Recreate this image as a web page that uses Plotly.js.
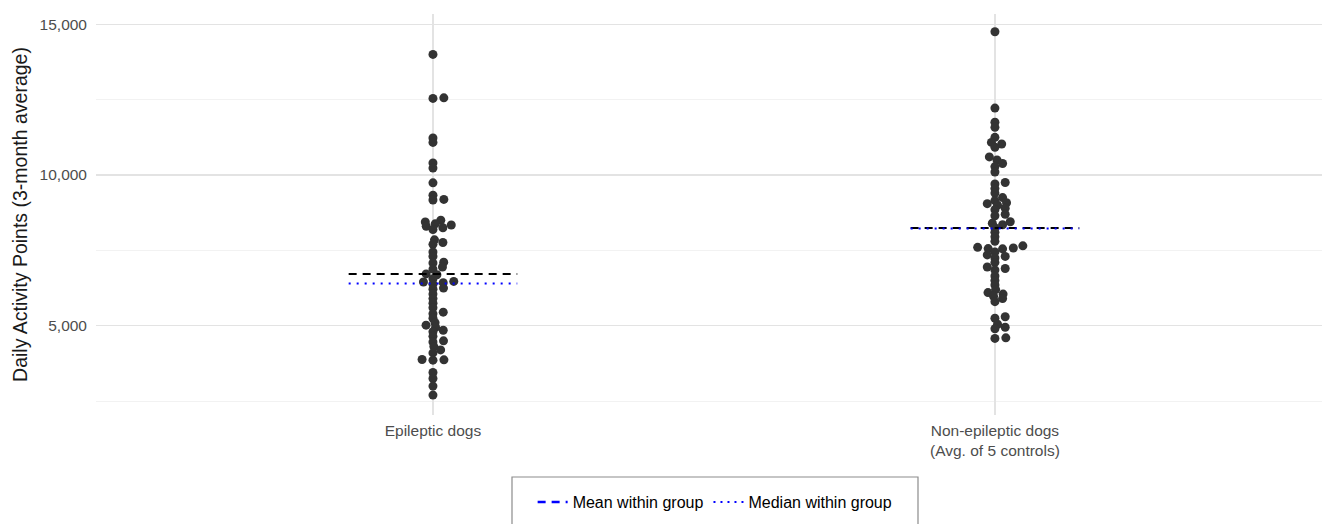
<!DOCTYPE html>
<html><head><meta charset="utf-8">
<script src="https://cdn.plot.ly/plotly-3.0.1.min.js"></script>
<style>body{margin:0;background:#fff}#chart{width:1322px;height:524px}</style>
</head><body><div id="chart"></div>
<script>
const groups = ["Epileptic dogs", "Non-epileptic dogs<br>(Avg. of 5 controls)"];
const epilepticValues = [14000, 12560, 12540, 11230, 11080, 10400, 10230, 9740, 9330, 9190, 9170,
  8500, 8440, 8380, 8340, 8300, 8250, 8190, 7850, 7760, 7700, 7450, 7300, 7110, 7080, 6950, 6880,
  6720, 6690, 6560, 6470, 6450, 6430, 6380, 6250, 6210, 6050, 5900, 5750, 5600, 5450, 5400, 5250,
  5100, 5020, 4950, 4850, 4800, 4650, 4500, 4460, 4310, 4200, 4100, 3880, 3870, 3860, 3450, 3250,
  3000, 2700];
const controlValues = [14750, 12220, 11750, 11580, 11250, 11080, 11030, 10920, 10600, 10500, 10380,
  10280, 10100, 9750, 9700, 9550, 9400, 9250, 9150, 9080, 9050, 9000, 8900, 8850, 8700, 8650, 8450,
  8400, 8350, 8250, 8100, 7950, 7800, 7650, 7600, 7580, 7560, 7550, 7450, 7350, 7300, 7250, 7100,
  6950, 6900, 6850, 6650, 6500, 6350, 6200, 6100, 6050, 5980, 5900, 5800, 5300, 5250, 5050, 4950,
  4900, 4600, 4580];
const meanValues = [6720, 8240];
const medianValues = [6400, 8225];
const yTickVals = [5000, 10000, 15000];
const yTickText = ["5,000", "10,000", "15,000"];
const yMinorVals = [2500, 7500, 12500];

const xRange = [0.4004, 2.582];
const yRange = [2040, 15340];
const plotW = 1226, plotH = 401;
const pxPerX = plotW / (xRange[1] - xRange[0]);
const pxPerY = plotH / (yRange[1] - yRange[0]);

function swarm(values, Dx, Dy, rightBias) {
  const idx = values.map((v, i) => i).sort((a, b) => values[a] - values[b]);
  const placed = [];
  const off = new Array(values.length);
  for (const i of idx) {
    const y = values[i] * pxPerY;
    const near = placed.filter(p => Math.abs(p.y - y) < Dy);
    const cands = [0];
    near.forEach(p => {
      const t = (p.y - y) / Dy;
      const d = Dx * Math.sqrt(1 - t * t);
      cands.push(p.x + d, p.x - d);
    });
    const ok = cands.filter(c => near.every(p => {
      const a = (c - p.x) / Dx, b = (y - p.y) / Dy;
      return a * a + b * b >= 0.999;
    }));
    const score = c => Math.abs(c) - (c > 0 ? rightBias : 0);
    ok.sort((a, b) => (score(a) - score(b)) || (b - a));
    const c = ok[0];
    placed.push({x: c, y: y});
    off[i] = c;
  }
  return off.map(o => o / pxPerX);
}

const font = "Liberation Sans, Arial, sans-serif";
const traces = [];
[epilepticValues, controlValues].forEach((vals, g) => {
  const off = swarm(vals, 11, 4.2, 4);
  traces.push({
    x: vals.map((v, i) => g + 1 + off[i]), y: vals, type: 'scatter', mode: 'markers',
    marker: {size: 9, color: '#333333'}, showlegend: false, hoverinfo: 'skip'
  });
});
[0, 1].forEach(g => {
  traces.push({
    x: [g + 1 - 0.15, g + 1 + 0.15], y: [meanValues[g], meanValues[g]], type: 'scatter', mode: 'lines',
    line: {color: '#000000', width: 2, dash: '8px,6px'}, showlegend: false, hoverinfo: 'skip'
  });
});
[0, 1].forEach(g => {
  traces.push({
    x: [g + 1 - 0.15, g + 1 + 0.15], y: [medianValues[g], medianValues[g]], type: 'scatter', mode: 'lines',
    line: {color: '#0000ff', width: 2, dash: '2px,6px'}, showlegend: false, hoverinfo: 'skip'
  });
});
traces.push({x: [null], y: [null], type: 'scatter', mode: 'lines', name: 'Mean within group',
  line: {color: '#0000ff', width: 2.5, dash: '8px,6px'}});
traces.push({x: [null], y: [null], type: 'scatter', mode: 'lines', name: 'Median within group',
  line: {color: '#0000ff', width: 2, dash: '2px,5px'}});

const layout = {
  width: 1322, height: 524,
  margin: {l: 96, r: 0, t: 14, b: 109},
  paper_bgcolor: '#ffffff', plot_bgcolor: '#ffffff',
  font: {family: font, color: '#000'},
  xaxis: {
    range: xRange, tickvals: [1, 2], ticktext: groups, showgrid: true, gridcolor: '#e3e3e3', gridwidth: 1.2,
    zeroline: false, showline: false, ticks: '', ticklabelstandoff: 4,
    tickfont: {size: 15.5, color: '#4d4d4d', family: font}
  },
  yaxis: {
    range: yRange, tickvals: yTickVals, ticktext: yTickText, showgrid: true, gridcolor: '#e3e3e3', gridwidth: 1.2,
    zeroline: false, showline: false, ticks: '', ticklabelstandoff: 8,
    tickfont: {size: 15.5, color: '#4d4d4d', family: font},
    minor: {tickvals: yMinorVals, showgrid: true, gridcolor: '#efefef', gridwidth: 0.8, ticks: ''},
    title: {text: 'Daily Activity Points (3-month average)', font: {size: 19.5, color: '#1a1a1a', family: font}, standoff: 6}
  },
  showlegend: true,
  legend: {
    orientation: 'h', x: 0.505, xanchor: 'center', y: -0.175, yanchor: 'top',
    font: {size: 16, color: '#000', family: font}, bgcolor: 'rgba(0,0,0,0)', borderwidth: 0
  },
  shapes: [{
    type: 'rect', xref: 'paper', yref: 'paper',
    x0: (512 - 96) / 1226, x1: (918 - 96) / 1226, y0: (415 - 540) / 401, y1: (415 - 477) / 401,
    line: {color: '#8c8c8c', width: 1.2}, fillcolor: 'rgba(0,0,0,0)', layer: 'below'
  }]
};
Plotly.newPlot('chart', traces, layout, {displayModeBar: false, staticPlot: true});
</script></body></html>
